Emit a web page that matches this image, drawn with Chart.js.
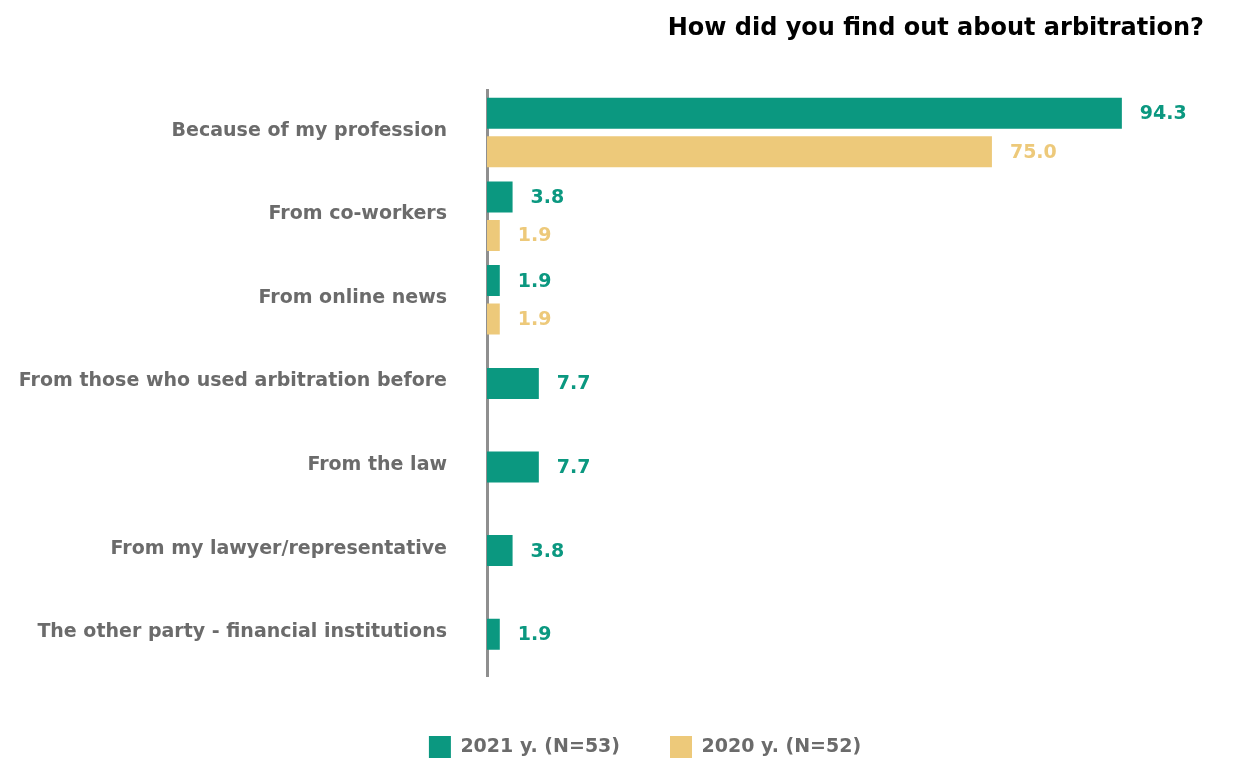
<!DOCTYPE html>
<html>
<head>
<meta charset="utf-8">
<script src="https://cdn.jsdelivr.net/npm/chart.js@4"></script>
<style>
    body { margin: 0; background: #fff; }
    #wrap { width: 1252px; height: 758px; position: relative; }
</style>
</head>
<body>
<div id="wrap"><canvas id="sourceChart"></canvas></div>
<script>
// Survey answers
const categories = [
    'Because of my profession',
    'From co-workers',
    'From online news',
    'From those who used arbitration before',
    'From the law',
    'From my lawyer/representative',
    'The other party - financial institutions'
];
const values2021 = [94.3, 3.8, 1.9, 7.7, 7.7, 3.8, 1.9];
const values2020 = [75.0, 1.9, 1.9, null, null, null, null];
const seriesLabels = ['2021 y. (N=53)', '2020 y. (N=52)'];

const FONT = "'DejaVu Sans', sans-serif";
const TEAL = '#0b9880';
const SAND = '#edc97a';
const GREY = '#6b6b6b';

Chart.defaults.font.family = FONT;

// Value labels at the end of each bar
const valueLabels = {
    id: 'valueLabels',
    afterDatasetsDraw(chart) {
        const ctx = chart.ctx;
        ctx.save();
        ctx.font = 'bold 19px ' + FONT;
        ctx.textBaseline = 'middle';
        ctx.textAlign = 'left';
        chart.data.datasets.forEach((ds, i) => {
            const meta = chart.getDatasetMeta(i);
            meta.data.forEach((bar, j) => {
                const v = ds.data[j];
                if (v === null || v === undefined) return;
                ctx.fillStyle = ds.backgroundColor;
                ctx.fillText(v.toFixed(1), bar.x + 18, bar.y + 1);
            });
        });
        ctx.restore();
    }
};

// Nudge the legend under the bars
const legendShift = {
    id: 'legendShift',
    afterLayout(chart) {
        const lg = chart.legend;
        if (!lg) return;
        lg.left += 37;
        lg.right += 37;
        lg.top += 10;
        lg.bottom += 10;
    }
};

new Chart(document.getElementById('sourceChart'), {
    type: 'bar',
    data: {
        labels: categories,
        datasets: [
            {
                label: seriesLabels[0],
                data: values2021,
                backgroundColor: TEAL,
                borderWidth: 0
            },
            {
                label: seriesLabels[1],
                data: values2020,
                backgroundColor: SAND,
                borderWidth: 0
            }
        ]
    },
    options: {
        indexAxis: 'y',
        responsive: true,
        maintainAspectRatio: false,
        animation: false,
        skipNull: true,
        categoryPercentage: 0.92,
        barPercentage: 0.86,
        maxBarThickness: 31,
        layout: {
            padding: { left: 12, right: 48, top: 0, bottom: 0 }
        },
        plugins: {
            title: {
                display: true,
                text: 'How did you find out about arbitration?',
                align: 'end',
                color: '#000',
                font: { size: 24, weight: 'bold' },
                padding: { top: 14, bottom: 48 }
            },
            legend: {
                position: 'bottom',
                labels: {
                    boxWidth: 22,
                    boxHeight: 22,
                    padding: 50,
                    color: GREY,
                    font: { size: 19, weight: 'bold' }
                }
            },
            tooltip: { enabled: false }
        },
        scales: {
            x: {
                display: false,
                min: 0,
                max: 106.5
            },
            y: {
                afterFit(scale) {
                    scale.width = 475;
                },
                grid: { display: false, drawTicks: false },
                border: { display: true, color: '#8f8f8f', width: 3 },
                ticks: {
                    color: GREY,
                    padding: 40,
                    labelOffset: -2,
                    font: { size: 19, weight: 'bold' }
                }
            }
        }
    },
    plugins: [valueLabels, legendShift]
});
</script>
</body>
</html>
